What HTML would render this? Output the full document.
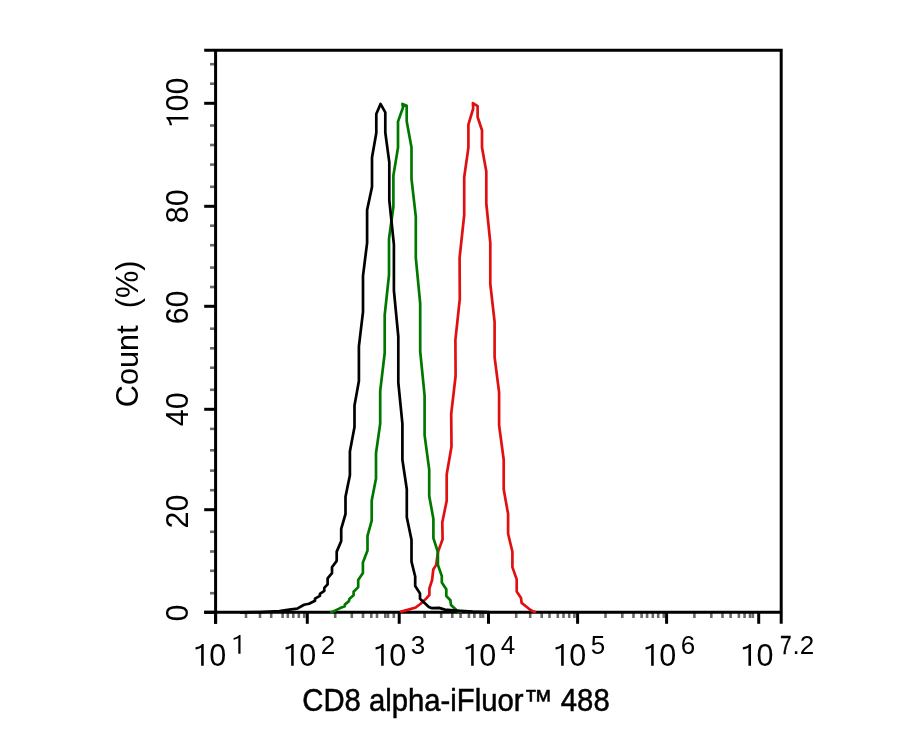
<!DOCTYPE html>
<html><head><meta charset="utf-8"><style>
html,body{margin:0;padding:0;background:#fff;}
body{width:913px;height:730px;position:relative;overflow:hidden;}
svg{position:absolute;left:0;top:0;will-change:transform;}
text{font-family:"Liberation Sans",sans-serif;fill:#000;}
</style></head><body>
<svg width="913" height="730" viewBox="0 0 913 730">
<line x1="210" y1="64.2" x2="215" y2="64.2" stroke="#6a6a6a" stroke-width="2.6"/>
<line x1="210" y1="83.7" x2="215" y2="83.7" stroke="#6a6a6a" stroke-width="2.6"/>
<line x1="210" y1="125.5" x2="215" y2="125.5" stroke="#6a6a6a" stroke-width="2.6"/>
<line x1="210" y1="145.0" x2="215" y2="145.0" stroke="#6a6a6a" stroke-width="2.6"/>
<line x1="210" y1="164.6" x2="215" y2="164.6" stroke="#6a6a6a" stroke-width="2.6"/>
<line x1="210" y1="186.8" x2="215" y2="186.8" stroke="#6a6a6a" stroke-width="2.6"/>
<line x1="210" y1="225.7" x2="215" y2="225.7" stroke="#6a6a6a" stroke-width="2.6"/>
<line x1="210" y1="245.2" x2="215" y2="245.2" stroke="#6a6a6a" stroke-width="2.6"/>
<line x1="210" y1="267.6" x2="215" y2="267.6" stroke="#6a6a6a" stroke-width="2.6"/>
<line x1="210" y1="287.0" x2="215" y2="287.0" stroke="#6a6a6a" stroke-width="2.6"/>
<line x1="210" y1="328.7" x2="215" y2="328.7" stroke="#6a6a6a" stroke-width="2.6"/>
<line x1="210" y1="348.3" x2="215" y2="348.3" stroke="#6a6a6a" stroke-width="2.6"/>
<line x1="210" y1="367.7" x2="215" y2="367.7" stroke="#6a6a6a" stroke-width="2.6"/>
<line x1="210" y1="389.8" x2="215" y2="389.8" stroke="#6a6a6a" stroke-width="2.6"/>
<line x1="210" y1="428.9" x2="215" y2="428.9" stroke="#6a6a6a" stroke-width="2.6"/>
<line x1="210" y1="450.3" x2="215" y2="450.3" stroke="#6a6a6a" stroke-width="2.6"/>
<line x1="210" y1="470.6" x2="215" y2="470.6" stroke="#6a6a6a" stroke-width="2.6"/>
<line x1="210" y1="490.2" x2="215" y2="490.2" stroke="#6a6a6a" stroke-width="2.6"/>
<line x1="210" y1="531.8" x2="215" y2="531.8" stroke="#6a6a6a" stroke-width="2.6"/>
<line x1="210" y1="551.5" x2="215" y2="551.5" stroke="#6a6a6a" stroke-width="2.6"/>
<line x1="210" y1="570.8" x2="215" y2="570.8" stroke="#6a6a6a" stroke-width="2.6"/>
<line x1="210" y1="593.2" x2="215" y2="593.2" stroke="#6a6a6a" stroke-width="2.6"/>
<line x1="204.2" y1="103.3" x2="215.5" y2="103.3" stroke="#000" stroke-width="3"/>
<line x1="204.2" y1="206.3" x2="215.5" y2="206.3" stroke="#000" stroke-width="3"/>
<line x1="204.2" y1="306.3" x2="215.5" y2="306.3" stroke="#000" stroke-width="3"/>
<line x1="204.2" y1="409.3" x2="215.5" y2="409.3" stroke="#000" stroke-width="3"/>
<line x1="204.2" y1="509.7" x2="215.5" y2="509.7" stroke="#000" stroke-width="3"/>
<line x1="204.2" y1="612.3" x2="215.5" y2="612.3" stroke="#000" stroke-width="3"/>
<line x1="246.0" y1="613" x2="246.0" y2="618" stroke="#6a6a6a" stroke-width="2.6"/>
<line x1="260.0" y1="613" x2="260.0" y2="618" stroke="#6a6a6a" stroke-width="2.6"/>
<line x1="271.2" y1="613" x2="271.2" y2="618" stroke="#6a6a6a" stroke-width="2.6"/>
<line x1="282.6" y1="613" x2="282.6" y2="618" stroke="#6a6a6a" stroke-width="2.6"/>
<line x1="287.8" y1="613" x2="287.8" y2="618" stroke="#6a6a6a" stroke-width="2.6"/>
<line x1="293.3" y1="613" x2="293.3" y2="618" stroke="#6a6a6a" stroke-width="2.6"/>
<line x1="298.8" y1="613" x2="298.8" y2="618" stroke="#6a6a6a" stroke-width="2.6"/>
<line x1="304.3" y1="613" x2="304.3" y2="618" stroke="#6a6a6a" stroke-width="2.6"/>
<line x1="335.2" y1="613" x2="335.2" y2="618" stroke="#6a6a6a" stroke-width="2.6"/>
<line x1="351.8" y1="613" x2="351.8" y2="618" stroke="#6a6a6a" stroke-width="2.6"/>
<line x1="363.0" y1="613" x2="363.0" y2="618" stroke="#6a6a6a" stroke-width="2.6"/>
<line x1="371.3" y1="613" x2="371.3" y2="618" stroke="#6a6a6a" stroke-width="2.6"/>
<line x1="377.0" y1="613" x2="377.0" y2="618" stroke="#6a6a6a" stroke-width="2.6"/>
<line x1="385.3" y1="613" x2="385.3" y2="618" stroke="#6a6a6a" stroke-width="2.6"/>
<line x1="388.0" y1="613" x2="388.0" y2="618" stroke="#6a6a6a" stroke-width="2.6"/>
<line x1="393.8" y1="613" x2="393.8" y2="618" stroke="#6a6a6a" stroke-width="2.6"/>
<line x1="424.6" y1="613" x2="424.6" y2="618" stroke="#6a6a6a" stroke-width="2.6"/>
<line x1="441.2" y1="613" x2="441.2" y2="618" stroke="#6a6a6a" stroke-width="2.6"/>
<line x1="452.3" y1="613" x2="452.3" y2="618" stroke="#6a6a6a" stroke-width="2.6"/>
<line x1="460.6" y1="613" x2="460.6" y2="618" stroke="#6a6a6a" stroke-width="2.6"/>
<line x1="468.9" y1="613" x2="468.9" y2="618" stroke="#6a6a6a" stroke-width="2.6"/>
<line x1="474.4" y1="613" x2="474.4" y2="618" stroke="#6a6a6a" stroke-width="2.6"/>
<line x1="480.5" y1="613" x2="480.5" y2="618" stroke="#6a6a6a" stroke-width="2.6"/>
<line x1="483.0" y1="613" x2="483.0" y2="618" stroke="#6a6a6a" stroke-width="2.6"/>
<line x1="516.2" y1="613" x2="516.2" y2="618" stroke="#6a6a6a" stroke-width="2.6"/>
<line x1="530.2" y1="613" x2="530.2" y2="618" stroke="#6a6a6a" stroke-width="2.6"/>
<line x1="541.7" y1="613" x2="541.7" y2="618" stroke="#6a6a6a" stroke-width="2.6"/>
<line x1="549.5" y1="613" x2="549.5" y2="618" stroke="#6a6a6a" stroke-width="2.6"/>
<line x1="557.8" y1="613" x2="557.8" y2="618" stroke="#6a6a6a" stroke-width="2.6"/>
<line x1="563.5" y1="613" x2="563.5" y2="618" stroke="#6a6a6a" stroke-width="2.6"/>
<line x1="569.2" y1="613" x2="569.2" y2="618" stroke="#6a6a6a" stroke-width="2.6"/>
<line x1="574.4" y1="613" x2="574.4" y2="618" stroke="#6a6a6a" stroke-width="2.6"/>
<line x1="605.5" y1="613" x2="605.5" y2="618" stroke="#6a6a6a" stroke-width="2.6"/>
<line x1="622.3" y1="613" x2="622.3" y2="618" stroke="#6a6a6a" stroke-width="2.6"/>
<line x1="633.5" y1="613" x2="633.5" y2="618" stroke="#6a6a6a" stroke-width="2.6"/>
<line x1="641.6" y1="613" x2="641.6" y2="618" stroke="#6a6a6a" stroke-width="2.6"/>
<line x1="647.1" y1="613" x2="647.1" y2="618" stroke="#6a6a6a" stroke-width="2.6"/>
<line x1="652.8" y1="613" x2="652.8" y2="618" stroke="#6a6a6a" stroke-width="2.6"/>
<line x1="658.2" y1="613" x2="658.2" y2="618" stroke="#6a6a6a" stroke-width="2.6"/>
<line x1="663.8" y1="613" x2="663.8" y2="618" stroke="#6a6a6a" stroke-width="2.6"/>
<line x1="694.4" y1="613" x2="694.4" y2="618" stroke="#6a6a6a" stroke-width="2.6"/>
<line x1="711.3" y1="613" x2="711.3" y2="618" stroke="#6a6a6a" stroke-width="2.6"/>
<line x1="722.5" y1="613" x2="722.5" y2="618" stroke="#6a6a6a" stroke-width="2.6"/>
<line x1="730.6" y1="613" x2="730.6" y2="618" stroke="#6a6a6a" stroke-width="2.6"/>
<line x1="738.9" y1="613" x2="738.9" y2="618" stroke="#6a6a6a" stroke-width="2.6"/>
<line x1="744.6" y1="613" x2="744.6" y2="618" stroke="#6a6a6a" stroke-width="2.6"/>
<line x1="750.0" y1="613" x2="750.0" y2="618" stroke="#6a6a6a" stroke-width="2.6"/>
<line x1="752.8" y1="613" x2="752.8" y2="618" stroke="#6a6a6a" stroke-width="2.6"/>
<line x1="215.6" y1="612.3" x2="215.6" y2="623.8" stroke="#000" stroke-width="3"/>
<line x1="307.3" y1="612.3" x2="307.3" y2="623.8" stroke="#000" stroke-width="3"/>
<line x1="399.2" y1="612.3" x2="399.2" y2="623.8" stroke="#000" stroke-width="3"/>
<line x1="488.5" y1="612.3" x2="488.5" y2="623.8" stroke="#000" stroke-width="3"/>
<line x1="577.6" y1="612.3" x2="577.6" y2="623.8" stroke="#000" stroke-width="3"/>
<line x1="666.6" y1="612.3" x2="666.6" y2="623.8" stroke="#000" stroke-width="3"/>
<line x1="758.7" y1="612.3" x2="758.7" y2="623.8" stroke="#000" stroke-width="3"/>
<path d="M204.2 50.2 H781.2 V623.8 M215.6 50.2 V623.8 M204.2 612.3 H781.2" fill="none" stroke="#000" stroke-width="3"/>
<polyline points="400.0,611.8 402.0,611.4 408.5,609.6 415.7,607.5 420.0,604.2 423.3,601.4 426.6,598.1 429.4,594.9 429.4,588.3 432.1,580.0 433.3,569.5 436.2,564.9 437.9,552.1 442.6,539.3 442.3,522.2 446.7,500.8 446.7,474.5 451.5,446.6 451.2,413.8 455.6,376.0 455.4,339.8 459.8,298.8 459.6,257.7 464.2,215.0 464.2,177.2 468.4,147.6 468.4,124.6 473.2,108.5 472.9,103.2 477.6,106.1 477.6,117.0 482.0,130.2 482.0,147.6 486.3,171.4 486.3,203.5 490.3,242.9 490.3,284.0 494.6,321.8 494.6,357.1 499.1,392.4 499.1,425.3 503.7,459.7 503.7,489.3 508.1,514.0 508.1,533.7 512.4,551.8 512.4,567.1 516.7,579.4 516.7,591.4 521.0,598.0 521.6,602.9 526.5,606.8 529.8,609.5 533.0,611.4 536.0,612.0" fill="none" stroke="#e01010" stroke-width="2.7" stroke-linejoin="round"/>
<polyline points="330.0,612.2 332.0,612.0 335.5,610.4 340.2,608.1 344.8,606.3 344.8,604.6 348.9,601.1 349.5,598.8 353.6,595.3 353.6,591.8 358.2,587.1 358.2,580.1 362.9,573.1 362.9,562.6 367.5,550.4 367.5,535.8 371.7,520.6 371.7,500.8 376.0,478.6 376.0,453.2 380.2,423.6 380.2,390.8 384.7,353.0 384.7,315.2 389.0,275.0 389.0,238.8 393.4,206.8 393.4,175.5 398.0,147.6 398.0,121.6 403.0,107.5 402.4,103.9 406.7,105.8 406.7,121.3 411.5,147.6 411.5,178.8 415.8,216.6 415.8,257.7 420.2,303.7 420.2,351.3 424.6,395.7 424.6,435.1 429.2,469.6 429.2,495.9 433.4,518.9 433.4,538.1 437.9,552.1 437.9,564.9 441.8,576.0 441.8,582.5 446.3,589.2 446.3,596.0 450.4,600.2 451.0,605.1 455.3,609.0 457.5,611.1 462.0,612.3" fill="none" stroke="#007800" stroke-width="2.7" stroke-linejoin="round"/>
<polyline points="240.0,612.3 259.7,612.1 269.6,611.7 279.4,611.1 289.3,609.6 297.2,608.6 304.1,604.7 309.0,603.7 315.0,600.7 315.0,598.7 319.9,595.8 319.9,593.8 324.3,590.8 324.3,587.9 327.6,584.4 327.6,578.4 332.0,573.1 332.0,567.3 336.7,560.9 336.7,551.6 341.2,541.1 341.2,528.8 345.5,514.0 345.5,496.7 349.9,475.3 349.9,451.5 354.5,426.9 354.5,405.6 358.9,380.9 358.9,346.4 363.0,311.9 363.0,275.8 367.1,242.9 367.1,210.0 372.0,187.0 372.0,157.5 376.3,133.1 376.3,114.1 380.5,103.9 385.3,112.4 385.3,132.5 389.3,162.4 389.3,200.2 393.9,244.5 393.9,290.5 398.3,336.5 398.3,382.5 402.4,423.6 402.4,459.7 406.8,489.3 406.8,517.3 411.5,539.8 411.5,561.6 415.2,576.5 415.2,586.0 420.0,593.5 420.0,598.7 424.6,603.0 428.8,606.9 432.1,608.2 439.1,607.9 444.9,609.6 456.4,610.6 472.9,611.7 489.0,612.2" fill="none" stroke="#000" stroke-width="2.7" stroke-linejoin="round"/>
<path d="M0.293,0 H0.378 V0.716 H0.322 C0.29,0.658 0.205,0.622 0.11,0.608 V0.532 C0.18,0.546 0.25,0.574 0.293,0.604 Z" transform="translate(192.20,665.80) scale(30.5,-30.5)"/><text x="209.16" y="665.80" font-size="30.5">0</text>
<path d="M0.293,0 H0.378 V0.716 H0.322 C0.29,0.658 0.205,0.622 0.11,0.608 V0.532 C0.18,0.546 0.25,0.574 0.293,0.604 Z" transform="translate(230.70,653.70) scale(26,-26)"/>
<path d="M0.293,0 H0.378 V0.716 H0.322 C0.29,0.658 0.205,0.622 0.11,0.608 V0.532 C0.18,0.546 0.25,0.574 0.293,0.604 Z" transform="translate(282.20,665.80) scale(30.5,-30.5)"/><text x="299.16" y="665.80" font-size="30.5">0</text>
<text x="320.70" y="653.70" font-size="26">2</text>
<path d="M0.293,0 H0.378 V0.716 H0.322 C0.29,0.658 0.205,0.622 0.11,0.608 V0.532 C0.18,0.546 0.25,0.574 0.293,0.604 Z" transform="translate(372.20,665.80) scale(30.5,-30.5)"/><text x="389.16" y="665.80" font-size="30.5">0</text>
<text x="410.70" y="653.70" font-size="26">3</text>
<path d="M0.293,0 H0.378 V0.716 H0.322 C0.29,0.658 0.205,0.622 0.11,0.608 V0.532 C0.18,0.546 0.25,0.574 0.293,0.604 Z" transform="translate(462.20,665.80) scale(30.5,-30.5)"/><text x="479.16" y="665.80" font-size="30.5">0</text>
<text x="500.70" y="653.70" font-size="26">4</text>
<path d="M0.293,0 H0.378 V0.716 H0.322 C0.29,0.658 0.205,0.622 0.11,0.608 V0.532 C0.18,0.546 0.25,0.574 0.293,0.604 Z" transform="translate(552.20,665.80) scale(30.5,-30.5)"/><text x="569.16" y="665.80" font-size="30.5">0</text>
<text x="590.70" y="653.70" font-size="26">5</text>
<path d="M0.293,0 H0.378 V0.716 H0.322 C0.29,0.658 0.205,0.622 0.11,0.608 V0.532 C0.18,0.546 0.25,0.574 0.293,0.604 Z" transform="translate(642.20,665.80) scale(30.5,-30.5)"/><text x="659.16" y="665.80" font-size="30.5">0</text>
<text x="680.70" y="653.70" font-size="26">6</text>
<path d="M0.293,0 H0.378 V0.716 H0.322 C0.29,0.658 0.205,0.622 0.11,0.608 V0.532 C0.18,0.546 0.25,0.574 0.293,0.604 Z" transform="translate(739.50,665.80) scale(30.5,-30.5)"/><text x="756.46" y="665.80" font-size="30.5">0</text>
<text transform="translate(779.95,653.70) scale(0.8,1)" font-size="26" stroke="#000" stroke-width="0.4">7</text><text x="792.46" y="653.70" font-size="26">.</text><text x="799.68" y="653.70" font-size="26">2</text>
<g transform="translate(188.3,128.53) rotate(-90)"><path d="M0.293,0 H0.378 V0.716 H0.322 C0.29,0.658 0.205,0.622 0.11,0.608 V0.532 C0.18,0.546 0.25,0.574 0.293,0.604 Z" transform="translate(0.00,0.00) scale(30.5,-30.5)"/><text x="16.96" y="0.00" font-size="30.5">0</text><text x="33.92" y="0.00" font-size="30.5">0</text></g>
<g transform="translate(188.3,223.23) rotate(-90)"><text x="0.00" y="0.00" font-size="30.5">8</text><text x="16.96" y="0.00" font-size="30.5">0</text></g>
<g transform="translate(188.3,324.33) rotate(-90)"><text x="0.00" y="0.00" font-size="30.5">6</text><text x="16.96" y="0.00" font-size="30.5">0</text></g>
<g transform="translate(188.3,426.23) rotate(-90)"><text x="0.00" y="0.00" font-size="30.5">4</text><text x="16.96" y="0.00" font-size="30.5">0</text></g>
<g transform="translate(188.3,528.43) rotate(-90)"><text x="0.00" y="0.00" font-size="30.5">2</text><text x="16.96" y="0.00" font-size="30.5">0</text></g>
<g transform="translate(188.3,621.45) rotate(-90)"><text x="0.00" y="0.00" font-size="30.5">0</text></g>
<g transform="translate(137.9,407.2) rotate(-90)"><text x="0" y="0" font-size="30.7" xml:space="preserve">Count  (%)</text></g>
<g transform="translate(302.3,711.3) scale(0.96,1)"><text x="0" y="0" font-size="30.5" stroke="#000" stroke-width="0.5">CD8 alpha-iFluor™ 488</text></g>
</svg>
</body></html>
